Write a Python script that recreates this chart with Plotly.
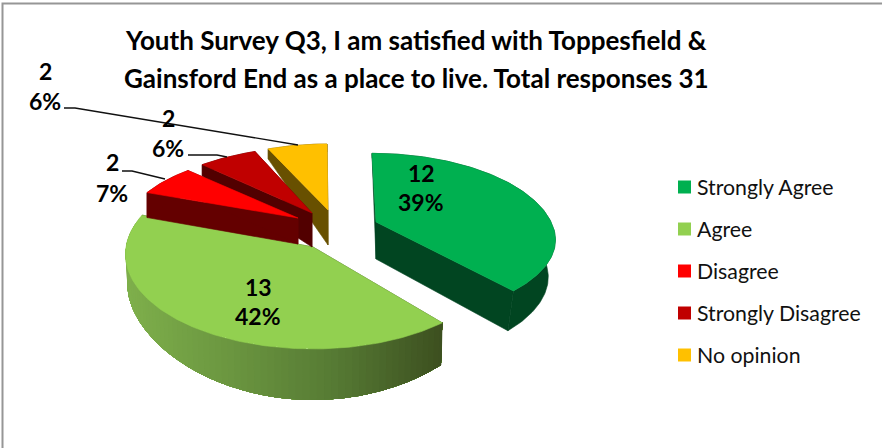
import numpy as np
import plotly.graph_objects as go

# ---- chart data ----
title_lines = ["Youth Survey Q3, I am satisfied with Toppesfield &",
               "Gainsford End as a place to live. Total responses 31"]
categories = ["Strongly Agree", "Agree", "Disagree", "Strongly Disagree", "No opinion"]
values = [12, 13, 2, 2, 2]
percent_labels = ["39%", "42%", "7%", "6%", "6%"]

# ---- styling ----
face_colors = ["#00B050", "#92D050", "#FF0000", "#C00000", "#FFC000"]
wall_colors = ["#014521", None, "#640000", "#520000", "#685000"]
FONT = "Lato"

# per-slice drawing geometry: apex px, apex py, scale S, S*k, perspective p,
# shear, back-half stretch, wall depth d0, back-depth slope, front-depth curve, wall x-scale
geometry = [
    dict(ax=376, ay=222, S=175, Sk=77, p=.2, sh=4, sb=1.07, d0=37, q=32, d2=5, xs=.96),
    dict(ax=313, ay=247, S=187, Sk=94.2, p=.076, sh=0, sb=1, d0=30, q=0, d2=21, xs=.99),
    dict(ax=298, ay=218, S=171.6, Sk=78, p=.19, sh=0, sb=1, d0=26, q=3, d2=0, xs=1.0),
    dict(ax=312, ay=213, S=177, Sk=82, p=.245, sh=0, sb=1, d0=34, q=33, d2=0, xs=1.0),
    dict(ax=328, ay=210, S=163, Sk=72.6, p=.1, sh=1, sb=1, d0=35, q=27, d2=0, xs=1.0),
]
draw_order = [1, 4, 3, 2, 0]
label_pos = [(421, 173, 202), (258, 287, 316), (112, 162, 193), (168, 118, 148), (45, 71, 101)]
leaders = [
    ([64, 75, 298], [108, 108, 145]),
    ([188, 217, 227], [155, 155, 157]),
    ([122, 132, 165], [171, 171, 179]),
]
legend_y = [187, 229, 271, 313, 355]

# ---- slice angles come from the values ----
total = sum(values)
edges = np.concatenate([[0], np.cumsum(values)]) / total * 2 * np.pi


def top_xy(g, th):
    X, Y = np.sin(th), -np.cos(th)
    w = 1 - g["p"] * Y
    stretch = np.where(Y < 0, g["sb"], 1.0)
    return g["ax"] + g["S"] * X / w + g["sh"] * Y, g["ay"] + g["Sk"] * Y * stretch / w


def bottom_xy(g, th):
    x, y = top_xy(g, th)
    Y = -np.cos(th)
    d = g["d0"] + np.where(Y < 0, g["q"] * Y, g["d2"] * Y ** 2)
    return g["ax"] + (x - g["ax"]) * g["xs"], y + d


def poly(xs, ys, color, lw=0.6):
    return go.Scatter(x=list(xs) + [xs[0]], y=list(ys) + [ys[0]], mode="lines", fill="toself",
                      fillcolor=color, line=dict(color=color, width=lw),
                      hoverinfo="skip", showlegend=False)


def gradient(xfrac):
    stops = np.array([[127, 176, 76], [107, 150, 64], [86, 122, 52], [61, 80, 32]])
    t = np.clip(xfrac, 0, 1) * 3
    i = min(int(t), 2)
    c = stops[i] + (stops[i + 1] - stops[i]) * (t - i)
    return "rgb(%d,%d,%d)" % tuple(c)


fig = go.Figure()
for i in draw_order:
    g = geometry[i]
    th = np.linspace(edges[i], edges[i + 1], max(4, int(np.degrees(edges[i + 1] - edges[i]))))
    tx, ty = top_xy(g, th)
    bx, by = bottom_xy(g, th)
    apex_bx, apex_by = g["ax"], g["ay"] + g["d0"]
    wall = wall_colors[i]
    flat = wall if wall else "#3D5020"
    for k in (0, -1):
        fig.add_trace(poly([g["ax"], tx[k], bx[k], apex_bx], [g["ay"], ty[k], by[k], apex_by], flat))
    if wall:
        fig.add_trace(poly(list(tx) + list(bx[::-1]), list(ty) + list(by[::-1]), wall))
    else:
        # gradient wall: painted from the far left towards the tip, each band overlapping the next
        xmin = tx.min()
        for j in range(len(th) - 2, -1, -2):
            fr = (tx[j] - xmin) / (442 - xmin)
            fig.add_trace(poly(list(tx[:j + 2]) + list(bx[:j + 2][::-1]),
                               list(ty[:j + 2]) + list(by[:j + 2][::-1]), gradient(fr), lw=0))
    fig.add_trace(poly([g["ax"]] + list(tx), [g["ay"]] + list(ty), face_colors[i]))

# leader lines
for lx, ly in leaders:
    fig.add_trace(go.Scatter(x=lx, y=ly, mode="lines", line=dict(color="#111111", width=1.3),
                             hoverinfo="skip", showlegend=False))

# legend swatches
fig.add_trace(go.Scatter(x=[684.5] * len(categories), y=legend_y, mode="markers",
                         marker=dict(symbol="square", size=13, color=face_colors),
                         hoverinfo="skip", showlegend=False))

ann = []
for line, y in zip(title_lines, (40, 78)):
    ann.append(dict(x=416, y=y, text="<b>%s</b>" % line, font=dict(size=26, color="#000000")))
for v, pct, (lx, y1, y2) in zip(values, percent_labels, label_pos):
    ann.append(dict(x=lx, y=y1, text="<b>%d</b>" % v, font=dict(size=23, color="#000000")))
    ann.append(dict(x=lx, y=y2, text="<b>%s</b>" % pct, font=dict(size=23, color="#000000")))
for c, y in zip(categories, legend_y):
    ann.append(dict(x=694.5, y=y, text=c, xanchor="left", font=dict(size=21.3, color="#111111")))
for a in ann:
    a.update(xref="x", yref="y", showarrow=False)
    a.setdefault("xanchor", "center")
    a["yanchor"] = "middle"

border = dict(type="path", path="M 2.5 448 L 2.5 3.5 L 882 3.5", xref="x", yref="y",
              line=dict(color="#969696", width=2))

fig.update_layout(
    width=882, height=448, margin=dict(l=0, r=0, t=0, b=0), autosize=False,
    paper_bgcolor="white", plot_bgcolor="white", font=dict(family=FONT),
    xaxis=dict(range=[0, 882], visible=False, fixedrange=True),
    yaxis=dict(range=[448, 0], visible=False, fixedrange=True),
    annotations=ann, shapes=[border], showlegend=False,
)
fig.write_html("out.html", config=dict(displayModeBar=False),
               post_script="document.body.style.margin='0';document.body.style.overflow='hidden';")
